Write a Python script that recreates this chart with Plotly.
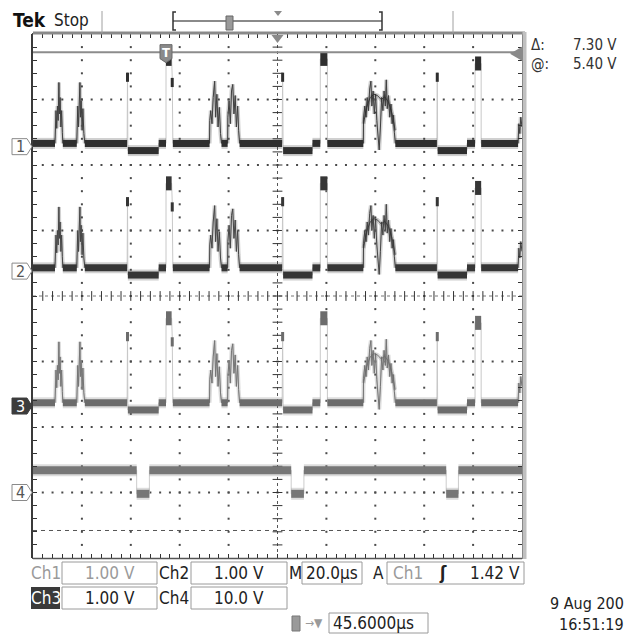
import plotly.graph_objects as go

# ---------------------------------------------------------------- settings
W, H = 627, 634
GX0, GX1, GY0, GY1 = 33, 522, 34, 558          # graticule box, page pixels

T_DIV = 20.0                                   # µs / div
H_DELAY = 45.6                                 # trigger -> screen centre, µs
N_XDIV, N_YDIV = 10, 8
T_MIN = H_DELAY - T_DIV * N_XDIV / 2
T_MAX = H_DELAY + T_DIV * N_XDIV / 2

CH_LABELS = ["1", "2", "3", "4"]
CH_VDIV = [1.00, 1.00, 1.00, 10.0]             # V / div
CH_POS = [2.28, 0.38, -1.68, -3.00]            # ground level, div from centre
CH_COLOR = ["#2f2f2f", "#363636", "#6c6c6c", "#777777"]

TRIG_LEVEL = 1.42                              # Ch1, rising edge
CURSOR_AT = 5.40                               # Ch3 cursors
CURSOR_DELTA = 7.30

# ------------------------------------------- bus signal on Ch1 / Ch2 / Ch3
BASE_V = 0.05
LOW_V = -0.06
FLAT_T0 = [-54.4, -42.2, -33.2, -15.6, -3.0, 2.8, 22.7, 30.1, 47.9, 59.9, 66.0, 93.8, 111.1, 123.1, 128.9]
FLAT_T1 = [-45.4, -36.5, -15.9, -3.0, 0.0, 17.8, 25.2, 47.5, 59.9, 63.1, 80.7, 110.8, 123.1, 126.4, 144.0]
FLAT_V = [BASE_V, BASE_V, BASE_V, LOW_V, BASE_V, BASE_V, BASE_V, BASE_V, LOW_V,
          BASE_V, BASE_V, BASE_V, LOW_V, BASE_V, BASE_V]

PULSE_T0 = [0.0, 63.1, 126.4]
PULSE_T1 = [2.3, 66.0, 128.9]
PULSE_V = [1.34, 1.34, 1.27]

SPIKE_T = [-15.75, 2.55, 47.7, 110.95]
SPIKE_V = [1.13, 1.05, 1.13, 1.13]

BURST_A_T = [-45.4, -45.3, -45.0, -44.7, -44.4, -44.1, -43.8, -43.6, -43.3, -43.0, -42.7, -42.4, -42.2]
BURST_A_V = [0.05, 0.30, 0.55, 0.28, 0.62, 0.40, 0.98, 0.50, 0.75, 0.30, 0.55, 0.22, 0.05]
BURST_B_T = [-36.5, -36.4, -36.1, -35.8, -35.5, -35.2, -35.0, -34.7, -34.3, -34.0, -33.6, -33.2]
BURST_B_V = [0.05, 0.35, 0.62, 0.30, 0.78, 0.98, 0.45, 0.70, 0.25, 0.58, 0.20, 0.05]
BURST_C_T = [17.8, 17.9, 18.3, 18.8, 19.3, 19.9, 20.3, 20.8, 21.3, 21.8, 22.3, 22.7]
BURST_C_V = [0.05, 0.40, 0.55, 0.35, 0.75, 1.00, 0.45, 0.80, 0.30, 0.60, 0.20, 0.05]
BURST_D_T = [25.2, 25.3, 25.8, 26.3, 26.8, 27.3, 27.8, 28.3, 28.8, 29.3, 29.7, 30.1]
BURST_D_V = [0.05, 0.45, 0.70, 0.35, 0.85, 0.95, 0.50, 0.78, 0.30, 0.62, 0.25, 0.05]
BURST_E_T = [80.7, 80.8, 81.3, 81.8, 82.3, 82.8, 83.3, 83.8, 84.2, 84.7, 85.2, 85.7, 86.2, 86.7,
             87.2, 87.7, 88.2, 88.7, 89.2, 89.7, 90.1, 90.5, 91.0, 91.5, 92.0, 92.5, 93.0, 93.4, 93.8]
BURST_E_V = [0.05, 0.42, 0.62, 0.45, 0.75, 0.55, 0.88, 1.00, 0.62, 0.85, 0.50, 0.80, 0.40, 0.20,
             -0.05, 0.30, 0.75, 0.55, 0.85, 0.62, 1.02, 0.58, 0.78, 0.45, 0.65, 0.35, 0.48, 0.22, 0.05]
BURST_E2_T = [80.8, 82.0, 83.5, 85.0, 86.5, 88.0, 89.5, 91.0, 92.5, 93.7]
BURST_E2_V = [0.35, 0.60, 0.75, 0.80, 0.78, 0.72, 0.76, 0.68, 0.50, 0.25]
BURST_F_T = [144.0, 144.3, 144.7, 145.1, 145.6]
BURST_F_V = [0.05, 0.35, 0.20, 0.45, 0.30]
BURSTS = [(BURST_A_T, BURST_A_V), (BURST_B_T, BURST_B_V), (BURST_C_T, BURST_C_V),
          (BURST_D_T, BURST_D_V), (BURST_E_T, BURST_E_V), (BURST_F_T, BURST_F_V)]
BURST_OVERLAY = [(BURST_E2_T, BURST_E2_V)]

# ------------------------------------------------------- Ch4 logic strobe
CH4_HIGH, CH4_LOW = 3.4, -0.2
CH4_HIGH_T0 = [-54.4, -6.8, 56.4, 119.6]
CH4_HIGH_T1 = [-12.0, 51.2, 114.6, 145.6]
CH4_LOW_T0 = [-12.0, 51.2, 114.6]
CH4_LOW_T1 = [-6.8, 56.4, 119.6]

FONT = "Liberation Sans Narrow, Arial Narrow, DejaVu Sans Condensed, sans-serif"


def px(x):
    return x / W


def py(y):
    return 1 - y / H


def t_to_px(t):
    return GX0 + (t - T_MIN) / (T_MAX - T_MIN) * (GX1 - GX0)


def div_to_py(d):
    return (GY0 + GY1) / 2 - d * (GY1 - GY0) / N_YDIV


def to_div(ch, v):
    return CH_POS[ch] + v / CH_VDIV[ch]


fig = go.Figure()
skip = dict(hoverinfo="skip", showlegend=False)

# ---------------------------------------------------------- graticule dots
gx, gy = [], []
for k in range(1, N_XDIV):
    if k == N_XDIV // 2:
        continue
    for j in range(1, N_YDIV * 5):
        gx.append(T_MIN + k * T_DIV)
        gy.append(-N_YDIV / 2 + j * 0.2)
for k in range(1, N_YDIV):
    if k == N_YDIV // 2:
        continue
    for j in range(1, N_XDIV * 5):
        gx.append(T_MIN + j * T_DIV / 5)
        gy.append(-N_YDIV / 2 + k)
fig.add_trace(go.Scatter(x=gx, y=gy, mode="markers",
                         marker=dict(symbol="square", size=2, color="#4a4a4a", line=dict(width=0)), **skip))

# centre cross tick marks
cx = [T_MIN + j * T_DIV / 5 for j in range(1, N_XDIV * 5)]
fig.add_trace(go.Scatter(x=cx, y=[0] * len(cx), mode="markers",
                         marker=dict(symbol="line-ns", size=7, line=dict(width=1, color="#333")), **skip))
cy = [-N_YDIV / 2 + j * 0.2 for j in range(1, N_YDIV * 5)]
fig.add_trace(go.Scatter(x=[H_DELAY] * len(cy), y=cy, mode="markers",
                         marker=dict(symbol="line-ew", size=7, line=dict(width=1, color="#333")), **skip))


# ---------------------------------------------------------------- traces
def segs(t0s, t1s, vs, ch):
    x, y = [], []
    for a, b, v in zip(t0s, t1s, vs):
        x += [a, b, None]
        y += [to_div(ch, v), to_div(ch, v), None]
    return x, y


def join_parts(parts):
    """Join record pieces (each a list of (t, v)) in time order."""
    parts = sorted(parts, key=lambda p: p[0][0])
    out = []
    for p in parts:
        out += p
    return out


def draw_bus(ch):
    col = CH_COLOR[ch]
    parts = [[(a, v), (b, v)] for a, b, v in zip(FLAT_T0, FLAT_T1, FLAT_V)]
    parts += [[(a, v), (b, v)] for a, b, v in zip(PULSE_T0, PULSE_T1, PULSE_V)]
    parts += [[(t, v)] for t, v in zip(SPIKE_T, SPIKE_V)]
    parts += [list(zip(bt, bv)) for bt, bv in BURSTS]
    pts = join_parts(parts)
    # fast edges
    fig.add_trace(go.Scatter(x=[p[0] for p in pts], y=[to_div(ch, p[1]) for p in pts],
                             mode="lines", line=dict(color="#c8c8c8", width=1), **skip))
    # noisy flat levels
    x, y = segs(FLAT_T0, FLAT_T1, FLAT_V, ch)
    fig.add_trace(go.Scatter(x=x, y=y, mode="lines", opacity=0.22,
                             line=dict(color=col, width=11), **skip))
    fig.add_trace(go.Scatter(x=x, y=y, mode="lines", line=dict(color=col, width=7), **skip))
    # high pulses
    x, y = segs(PULSE_T0, PULSE_T1, PULSE_V, ch)
    fig.add_trace(go.Scatter(x=x, y=y, mode="lines", line=dict(color=col, width=14), **skip))
    # spike tops
    sx, sy = [], []
    for t, v in zip(SPIKE_T, SPIKE_V):
        sx += [t, t, None]
        sy += [to_div(ch, v), to_div(ch, v - 0.14), None]
    fig.add_trace(go.Scatter(x=sx, y=sy, mode="lines", line=dict(color=col, width=3), **skip))
    # bursts
    for bt, bv in BURSTS + BURST_OVERLAY:
        yy = [to_div(ch, v) for v in bv]
        fig.add_trace(go.Scatter(x=bt, y=yy, mode="lines", opacity=0.22,
                                 line=dict(color=col, width=4), **skip))
        fig.add_trace(go.Scatter(x=bt, y=yy, mode="lines", opacity=0.85,
                                 line=dict(color=col, width=1), **skip))


for ch in range(3):
    draw_bus(ch)

# Ch4
c4 = CH_COLOR[3]
parts4 = [[(a, CH4_HIGH), (b, CH4_HIGH)] for a, b in zip(CH4_HIGH_T0, CH4_HIGH_T1)]
parts4 += [[(a, CH4_LOW), (b, CH4_LOW)] for a, b in zip(CH4_LOW_T0, CH4_LOW_T1)]
e4 = join_parts(parts4)
fig.add_trace(go.Scatter(x=[p[0] for p in e4], y=[to_div(3, p[1]) for p in e4],
                         mode="lines", line=dict(color="#cccccc", width=1), **skip))
for t0s, t1s, lv in [(CH4_HIGH_T0, CH4_HIGH_T1, CH4_HIGH), (CH4_LOW_T0, CH4_LOW_T1, CH4_LOW)]:
    x, y = segs(t0s, t1s, [lv] * len(t0s), 3)
    fig.add_trace(go.Scatter(x=x, y=y, mode="lines", opacity=0.25, line=dict(color=c4, width=12), **skip))
    fig.add_trace(go.Scatter(x=x, y=y, mode="lines", line=dict(color=c4, width=8), **skip))

# ---------------------------------------------------------------- shapes
shapes = []
ann = []

# centre dotted lines
shapes.append(dict(type="line", xref="x", yref="y", x0=H_DELAY, x1=H_DELAY, y0=-4, y1=4,
                   line=dict(color="#555", width=1, dash="dot"), layer="below"))
shapes.append(dict(type="line", xref="x", yref="y", x0=T_MIN, x1=T_MAX, y0=0, y1=0,
                   line=dict(color="#777", width=1, dash="dot"), layer="below"))

# Ch3 cursors
cur1 = to_div(2, CURSOR_AT)
cur2 = to_div(2, CURSOR_AT - CURSOR_DELTA)
shapes.append(dict(type="line", xref="x", yref="y", x0=T_MIN, x1=T_MAX, y0=cur1, y1=cur1,
                   line=dict(color="#8c8c8c", width=2)))
shapes.append(dict(type="line", xref="x", yref="y", x0=T_MIN, x1=T_MAX, y0=cur2, y1=cur2,
                   line=dict(color="#555", width=1, dash="4px,4px")))

# graticule frame
shapes.append(dict(type="line", xref="paper", yref="paper", x0=px(GX0), x1=px(GX1 + 3),
                   y0=py(GY0 - 1), y1=py(GY0 - 1), line=dict(color="#8a8a8a", width=3)))
shapes.append(dict(type="line", xref="paper", yref="paper", x0=px(GX0 - 1), x1=px(GX0 - 1),
                   y0=py(GY0), y1=py(GY1), line=dict(color="#3a3a3a", width=2)))
shapes.append(dict(type="line", xref="paper", yref="paper", x0=px(GX1 + 2.5), x1=px(GX1 + 2.5),
                   y0=py(GY0 - 2), y1=py(GY1 + 1), line=dict(color="#c0c0c0", width=4)))
shapes.append(dict(type="line", xref="paper", yref="paper", x0=px(GX0), x1=px(GX1),
                   y0=py(GY1 + 0.5), y1=py(GY1 + 0.5), line=dict(color="#555", width=1.5)))

# delay marker on the top edge
cxp = t_to_px(H_DELAY)
shapes.append(dict(type="path", xref="paper", yref="paper", fillcolor="#8a8a8a", line=dict(width=0),
                   path=f"M {px(cxp - 6)},{py(GY0 + 1)} L {px(cxp + 6)},{py(GY0 + 1)} L {px(cxp)},{py(GY0 + 9)} Z"))

# trigger level arrow (right edge)
ty = div_to_py(to_div(0, TRIG_LEVEL))
shapes.append(dict(type="path", xref="paper", yref="paper", fillcolor="#8a8a8a", line=dict(width=0),
                   path=f"M {px(GX1 - 12)},{py(ty)} L {px(GX1)},{py(ty - 7)} L {px(GX1)},{py(ty + 7)} Z"))

# trigger position marker
tx = t_to_px(0.0)
shapes.append(dict(type="path", xref="paper", yref="paper", fillcolor="#8a8a8a",
                   line=dict(color="#6a6a6a", width=1),
                   path=(f"M {px(tx - 6)},{py(ty - 9)} L {px(tx + 6)},{py(ty - 9)} L {px(tx + 6)},{py(ty + 5)} "
                         f"L {px(tx)},{py(ty + 9)} L {px(tx - 6)},{py(ty + 5)} Z")))
ann.append(dict(x=px(tx), y=py(ty - 1), xref="paper", yref="paper", text="<b>T</b>", showarrow=False,
                font=dict(family=FONT, size=13, color="white"), xanchor="center", yanchor="middle"))

# channel ground markers
for ch in range(4):
    gyp = div_to_py(CH_POS[ch])
    filled = ch == 2
    shapes.append(dict(type="path", xref="paper", yref="paper",
                       fillcolor="#3c3c3c" if filled else "white",
                       line=dict(color="#3c3c3c" if filled else "#8a8a8a", width=1),
                       path=(f"M {px(12)},{py(gyp - 8)} L {px(27)},{py(gyp - 8)} L {px(32)},{py(gyp)} "
                             f"L {px(27)},{py(gyp + 8)} L {px(12)},{py(gyp + 8)} Z")))
    ann.append(dict(x=px(20), y=py(gyp), xref="paper", yref="paper", text=CH_LABELS[ch], showarrow=False,
                    font=dict(family=FONT, size=16, color="white" if filled else "#555"),
                    xanchor="center", yanchor="middle"))

# ---------------------------------------------------------------- top bar
ann.append(dict(x=px(11), y=py(20), xref="paper", yref="paper", text="<b>Tek</b>", showarrow=False,
                font=dict(family=FONT, size=19, color="#111"), xanchor="left", yanchor="middle"))
ann.append(dict(x=px(52), y=py(20), xref="paper", yref="paper", text="Stop", showarrow=False,
                font=dict(family=FONT, size=17, color="#222"), xanchor="left", yanchor="middle"))
for sx in (102, 453):
    shapes.append(dict(type="line", xref="paper", yref="paper", x0=px(sx), x1=px(sx), y0=py(11), y1=py(33),
                       line=dict(color="#a0a0a0", width=1)))
shapes.append(dict(type="line", xref="paper", yref="paper", x0=px(173), x1=px(382), y0=py(21), y1=py(21),
                   line=dict(color="#8a8a8a", width=2)))
for bx, d in ((173, 1), (382, -1)):
    shapes.append(dict(type="path", xref="paper", yref="paper", line=dict(color="#333", width=1.5),
                       path=f"M {px(bx + 3 * d)},{py(12)} L {px(bx)},{py(12)} L {px(bx)},{py(30)} L {px(bx + 3 * d)},{py(30)}"))
shapes.append(dict(type="rect", xref="paper", yref="paper", x0=px(226), x1=px(233), y0=py(30), y1=py(16),
                   fillcolor="#9a9a9a", line=dict(color="#666", width=1)))
shapes.append(dict(type="path", xref="paper", yref="paper", fillcolor="#8a8a8a", line=dict(width=0),
                   path=f"M {px(274)},{py(11)} L {px(282)},{py(11)} L {px(278)},{py(16)} Z"))

# cursor readout
for yy, lab, val in ((45, "Δ:", f"{CURSOR_DELTA:.2f} V"), (64, "@:", f"{CURSOR_AT:.2f} V")):
    ann.append(dict(x=px(529), y=py(yy), xref="paper", yref="paper", text=lab, showarrow=False,
                    font=dict(family=FONT, size=15, color="#333"), xanchor="left", yanchor="middle"))
    ann.append(dict(x=px(619), y=py(yy), xref="paper", yref="paper", text=val, showarrow=False,
                    font=dict(family=FONT, size=15, color="#333"), xanchor="right", yanchor="middle"))

# ---------------------------------------------------------------- readouts
BOXES = [(62, 157, 562, 584), (191, 287, 562, 584), (302, 362, 562, 584), (387, 524, 562, 584),
         (62, 157, 587, 609), (191, 287, 587, 609), (329, 428, 613, 633)]
for x0, x1, y0, y1 in BOXES:
    shapes.append(dict(type="rect", xref="paper", yref="paper", x0=px(x0), x1=px(x1), y0=py(y1), y1=py(y0),
                       line=dict(color="#9a9a9a", width=1), fillcolor="rgba(0,0,0,0)"))
shapes.append(dict(type="rect", xref="paper", yref="paper", x0=px(31), x1=px(60), y0=py(609), y1=py(587),
                   line=dict(width=0), fillcolor="#3a3a3a"))


def txt(x, y, s, color="#222", anchor="center", size=17):
    ann.append(dict(x=px(x), y=py(y), xref="paper", yref="paper", text=s, showarrow=False,
                    font=dict(family=FONT, size=size, color=color), xanchor=anchor, yanchor="middle"))


ROW1, ROW2, ROW3 = 573, 598, 623
txt(46, ROW1, "Ch" + CH_LABELS[0], "#9a9a9a")
txt(110, ROW1, f"{CH_VDIV[0]:.2f} V", "#9a9a9a")
txt(174, ROW1, "Ch" + CH_LABELS[1])
txt(239, ROW1, f"{CH_VDIV[1]:.2f} V")
txt(295, ROW1, "M")
txt(332, ROW1, f"{T_DIV:.1f}µs")
txt(378, ROW1, "A")
txt(408, ROW1, "Ch1", "#9a9a9a")
txt(443, ROW1, "<b>ʃ</b>")
txt(522, ROW1, f"{TRIG_LEVEL:.2f} V", anchor="right")
txt(46, ROW2, "Ch" + CH_LABELS[2], "white")
txt(110, ROW2, f"{CH_VDIV[2]:.2f} V")
txt(174, ROW2, "Ch" + CH_LABELS[3])
txt(239, ROW2, f"{CH_VDIV[3]:.1f} V")
shapes.append(dict(type="rect", xref="paper", yref="paper", x0=px(292), x1=px(300), y0=py(631), y1=py(616),
                   fillcolor="#9a9a9a", line=dict(color="#777", width=1)))
txt(314, ROW3, "→▼", "#9a9a9a", size=12)
txt(331, ROW3, f"{H_DELAY:.4f}µs", anchor="left")
txt(626, 603, "9 Aug 200", anchor="right", size=16)
txt(626, 624, "16:51:19", anchor="right", size=16)

# ---------------------------------------------------------------- layout
tick_t = [T_MIN + j * T_DIV / 5 for j in range(N_XDIV * 5 + 1)]
tick_d = [-N_YDIV / 2 + j * 0.2 for j in range(N_YDIV * 5 + 1)]
fig.update_layout(
    width=W, height=H, margin=dict(l=0, r=0, t=0, b=0),
    paper_bgcolor="white", plot_bgcolor="white", showlegend=False,
    shapes=shapes, annotations=ann,
    xaxis=dict(domain=[px(GX0), px(GX1)], range=[T_MIN, T_MAX], showgrid=False, zeroline=False,
               showticklabels=False, ticks="inside", tickvals=tick_t, ticklen=4, tickwidth=1,
               tickcolor="#333", showline=True, linecolor="#555", linewidth=1, mirror="ticks",
               fixedrange=True),
    yaxis=dict(domain=[py(GY1), py(GY0)], range=[-N_YDIV / 2, N_YDIV / 2], showgrid=False, zeroline=False,
               showticklabels=False, ticks="inside", tickvals=tick_d, ticklen=4, tickwidth=1,
               tickcolor="#333", showline=True, linecolor="#555", linewidth=1, mirror="ticks",
               fixedrange=True),
)

fig.write_html("out.html")
